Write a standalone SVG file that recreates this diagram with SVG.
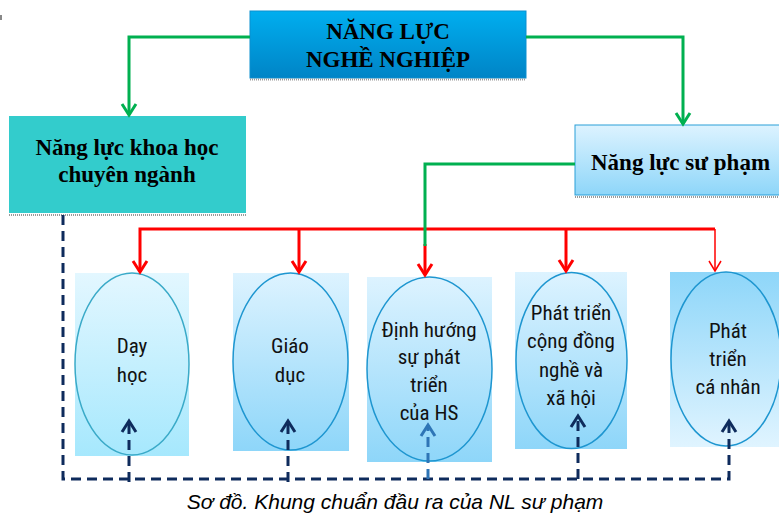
<svg xmlns="http://www.w3.org/2000/svg" width="779" height="517" viewBox="0 0 779 517">
<style>
.tb{font-family:"Liberation Serif","Times New Roman",serif;font-weight:bold;font-size:23px;fill:#000;text-anchor:middle}
.el{font-family:"Liberation Sans Narrow","Roboto Condensed","DejaVu Sans Condensed","Liberation Sans",sans-serif;font-stretch:condensed;font-size:21px;fill:#111;text-anchor:middle}
.cap{font-family:"Liberation Sans",Arial,sans-serif;font-style:italic;font-size:21px;fill:#000;text-anchor:middle}
.ell{fill:none;stroke:#1E96D0;stroke-width:1.5}
.shd{stroke:#9a9a9a;stroke-width:2;stroke-dasharray:1 1}
.g{fill:none;stroke:#00B050;stroke-width:3}
.r{fill:none;stroke:#FF0000;stroke-width:3}
.n{fill:none;stroke:#0E2B5C;stroke-width:3;stroke-dasharray:10 6}
.b{fill:none;stroke:#2E75B6;stroke-width:3;stroke-dasharray:10 6}
</style>
<defs>
<linearGradient id="gTop" x1="0" y1="0" x2="0" y2="1"><stop offset="0" stop-color="#00AEEF"/><stop offset="1" stop-color="#0084C6"/></linearGradient>
<linearGradient id="gLight" x1="0" y1="0" x2="0" y2="1"><stop offset="0" stop-color="#DDF3FF"/><stop offset="1" stop-color="#8ED6F9"/></linearGradient>
<linearGradient id="gCyan" x1="0" y1="0" x2="0" y2="1"><stop offset="0" stop-color="#E3F7FF"/><stop offset="1" stop-color="#A6E8FD"/></linearGradient>
<linearGradient id="gRev" x1="0" y1="0" x2="0" y2="1"><stop offset="0" stop-color="#8ED6F9"/><stop offset="1" stop-color="#E0F4FF"/></linearGradient>
<marker id="aG" viewBox="0 0 14 16" refX="12" refY="8" markerWidth="14" markerHeight="16" markerUnits="userSpaceOnUse" orient="auto" overflow="visible"><path d="M1,1 L12,8 L1,15" fill="none" stroke="#00B050" stroke-width="3"/></marker>
<marker id="aR" viewBox="0 0 14 16" refX="12" refY="8" markerWidth="14" markerHeight="16" markerUnits="userSpaceOnUse" orient="auto-start-reverse" overflow="visible"><path d="M1,1 L12,8 L1,15" fill="none" stroke="#FF0000" stroke-width="3"/></marker>
<marker id="aRt" viewBox="0 0 14 16" refX="12" refY="8" markerWidth="14" markerHeight="16" markerUnits="userSpaceOnUse" orient="auto" overflow="visible"><path d="M2,2 L12,8 L2,14" fill="none" stroke="#FF0000" stroke-width="1.5"/></marker>
<marker id="aN" viewBox="0 0 14 16" refX="12" refY="8" markerWidth="14" markerHeight="16" markerUnits="userSpaceOnUse" orient="auto" overflow="visible"><path d="M1,1 L12,8 L1,15" fill="none" stroke="#0E2B5C" stroke-width="3"/></marker>
<marker id="aB" viewBox="0 0 14 16" refX="12" refY="8" markerWidth="14" markerHeight="16" markerUnits="userSpaceOnUse" orient="auto" overflow="visible"><path d="M1,1 L12,8 L1,15" fill="none" stroke="#2E75B6" stroke-width="3"/></marker>
</defs>
<rect x="0" y="0" width="779" height="517" fill="#fff"/>
<rect x="0" y="15" width="2" height="5" fill="#888"/>

<g id="nang-luc-nghe-nghiep">
<rect x="250" y="11" width="276" height="67" fill="url(#gTop)" stroke="#0A8FD0" stroke-width="1"/>
<line class="shd" x1="250" y1="79.5" x2="526" y2="79.5"/>
<text class="tb" x="388" y="39">NĂNG LỰC</text>
<text class="tb" x="388" y="67">NGHỀ NGHIỆP</text>
</g>

<g id="nang-luc-khoa-hoc">
<rect x="9" y="116" width="237" height="97" fill="#33CCCC"/>
<line class="shd" x1="9" y1="215" x2="246" y2="215"/>
<text class="tb" x="127" y="155">Năng lực khoa học</text>
<text class="tb" x="127" y="182">chuyên ngành</text>
</g>

<g id="nang-luc-su-pham">
<rect x="575" y="125" width="210" height="70" fill="url(#gLight)" stroke="#2A9FD8" stroke-width="1"/>
<line class="shd" x1="575" y1="197" x2="779" y2="197"/>
<text class="tb" x="591" y="170" style="text-anchor:start">Năng lực sư phạm</text>
</g>

<g id="day-hoc">
<rect x="75" y="273" width="114" height="183" fill="url(#gCyan)"/>
<ellipse class="ell" cx="132" cy="364" rx="57" ry="91" style="stroke:#3AAAC8"/>
<text class="el" x="132" y="353">Dạy</text>
<text class="el" x="132" y="382">học</text>
</g>

<g id="giao-duc">
<rect x="233" y="273" width="116" height="178" fill="url(#gLight)"/>
<ellipse class="ell" cx="290.5" cy="361.5" rx="57.5" ry="88.5"/>
<text class="el" x="290" y="353">Giáo</text>
<text class="el" x="290" y="382">dục</text>
</g>

<g id="dinh-huong">
<rect x="367" y="277" width="125" height="185" fill="url(#gLight)"/>
<ellipse class="ell" cx="429.5" cy="369" rx="62.5" ry="92"/>
<text class="el" x="429" y="337">Định hướng</text>
<text class="el" x="429" y="364">sự phát</text>
<text class="el" x="429" y="392">triển</text>
<text class="el" x="429" y="420">của HS</text>
</g>

<g id="phat-trien-cong-dong">
<rect x="515" y="272" width="112" height="177" fill="url(#gLight)"/>
<ellipse class="ell" cx="571.5" cy="360.5" rx="55.5" ry="88"/>
<text class="el" x="571" y="320">Phát triển</text>
<text class="el" x="571" y="348">cộng đồng</text>
<text class="el" x="571" y="377">nghề và</text>
<text class="el" x="571" y="405">xã hội</text>
</g>

<g id="phat-trien-ca-nhan">
<rect x="670" y="272" width="109" height="175" fill="url(#gRev)"/>
<ellipse class="ell" cx="726" cy="359" rx="55" ry="87"/>
<text class="el" x="728" y="338">Phát</text>
<text class="el" x="728" y="366">triển</text>
<text class="el" x="728" y="394">cá nhân</text>
</g>

<g id="connectors">
<path class="g" d="M250,37 H129 V115" marker-end="url(#aG)"/>
<path class="g" d="M526,37 H683 V124" marker-end="url(#aG)"/>
<path class="r" d="M140,272 V229 H715" marker-start="url(#aR)"/>
<path class="r" d="M299,229 V272" marker-end="url(#aR)"/>
<path class="r" d="M566,229 V271" marker-end="url(#aR)"/>
<path fill="none" stroke="#FF0000" stroke-width="1.5" d="M715,229 V271" marker-end="url(#aRt)"/>
<path class="r" d="M425,244 V275" marker-end="url(#aR)"/>
<path class="g" d="M575,164 H425 V246"/>
<path class="n" d="M63,215 V479 H729 V421" marker-end="url(#aN)"/>
<path class="n" d="M129,482 V421" marker-end="url(#aN)"/>
<path class="n" d="M288,482 V421" marker-end="url(#aN)"/>
<path class="n" d="M578,479 V416" marker-end="url(#aN)"/>
<path class="b" d="M428,479 V425" marker-end="url(#aB)"/>
</g>

<text class="cap" x="395" y="509">Sơ đồ. Khung chuẩn đầu ra của NL sư phạm</text>
</svg>
